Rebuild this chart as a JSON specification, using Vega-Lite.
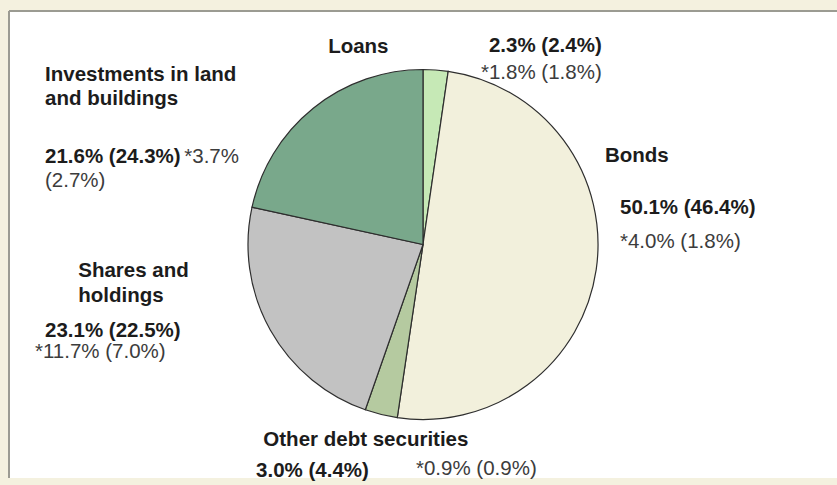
{
  "$schema": "https://vega.github.io/schema/vega-lite/v6.json",
  "width": 828,
  "height": 467,
  "autosize": {"type": "none"},
  "padding": {"left": 9, "top": 11, "right": 0, "bottom": 7},
  "background": "#f4f1df",
  "view": {"fill": "#ffffff", "stroke": "#9b9b92", "strokeWidth": 2, "strokeDash": [828, 1295, 467, 0]},
  "config": {
    "view": {"fill": "#ffffff", "stroke": "#9b9b92", "strokeWidth": 2, "strokeDash": [828, 1295, 467, 0]},
    "text": {"font": "Liberation Sans", "fontSize": 20.5, "lineBreak": "\n"}
  },
  "data": {
    "values": [
      {"cat": "Loans", "label": "Loans", "ord": 1, "share": 2.3, "prev": 2.4, "chg": 1.8, "chgPrev": 1.8},
      {"cat": "Bonds", "label": "Bonds", "ord": 2, "share": 50.1, "prev": 46.4, "chg": 4.0, "chgPrev": 1.8},
      {"cat": "Other debt securities", "label": "Other debt securities", "ord": 3, "share": 3.0, "prev": 4.4, "chg": 0.9, "chgPrev": 0.9},
      {"cat": "Shares and holdings", "label": "Shares and\nholdings", "ord": 4, "share": 23.1, "prev": 22.5, "chg": 11.7, "chgPrev": 7.0},
      {"cat": "Investments in land and buildings", "label": "Investments in land\nand buildings", "ord": 5, "share": 21.6, "prev": 24.3, "chg": 3.7, "chgPrev": 2.7}
    ]
  },
  "transform": [
    {"stack": "share", "groupby": [], "sort": [{"field": "ord", "order": "ascending"}], "as": ["s0", "s1"]},
    {"calculate": "(datum.s0 + datum.s1) / 2", "as": "mid"},
    {"calculate": "format(datum.share, '.1f') + '% (' + format(datum.prev, '.1f') + '%)'", "as": "pctText"},
    {"calculate": "'*' + format(datum.chg, '.1f') + '% (' + format(datum.chgPrev, '.1f') + '%)'", "as": "chgText"},
    {"calculate": "'*' + format(datum.chg, '.1f') + '%'", "as": "chgOnly"},
    {"calculate": "'(' + format(datum.chgPrev, '.1f') + '%)'", "as": "chgPrevOnly"}
  ],
  "layer": [
    {
      "mark": {"type": "arc", "radius": 175, "stroke": "#2e2e2e", "strokeWidth": 1.2},
      "encoding": {
        "theta": {"field": "s0", "type": "quantitative", "stack": null, "scale": {"domain": [0, 100.1], "nice": false, "zero": true}},
        "theta2": {"field": "s1"},
        "color": {
          "field": "cat", "type": "nominal", "legend": null,
          "scale": {
            "domain": ["Loans", "Bonds", "Other debt securities", "Shares and holdings", "Investments in land and buildings"],
            "range": ["#c6e9b6", "#f2f0dc", "#b5caa0", "#c2c2c2", "#79a88b"]
          }
        }
      }
    },
    {
      "transform": [{"filter": "datum.cat === 'Loans'"}],
      "mark": {"type": "text", "radius": 200, "align": "center", "baseline": "alphabetic", "dx": -79.1, "dy": 7.7, "fontWeight": "bold", "color": "#1c1c1c"},
      "encoding": {"theta": {"field": "mid", "type": "quantitative", "stack": null}, "text": {"field": "label"}}
    },
    {
      "transform": [{"filter": "datum.cat === 'Loans'"}],
      "mark": {"type": "text", "radius": 200, "align": "right", "baseline": "alphabetic", "dx": 164.3, "dy": 6.7, "fontWeight": "bold", "color": "#1c1c1c"},
      "encoding": {"theta": {"field": "mid", "type": "quantitative", "stack": null}, "text": {"field": "pctText"}}
    },
    {
      "transform": [{"filter": "datum.cat === 'Loans'"}],
      "mark": {"type": "text", "radius": 200, "align": "right", "baseline": "alphabetic", "dx": 164.3, "dy": 34.3, "fontWeight": "normal", "color": "#3c3c3c"},
      "encoding": {"theta": {"field": "mid", "type": "quantitative", "stack": null}, "text": {"field": "chgText"}}
    },
    {
      "transform": [{"filter": "datum.cat === 'Bonds'"}],
      "mark": {"type": "text", "radius": 200, "align": "left", "baseline": "alphabetic", "dx": -15.9, "dy": -111.3, "fontWeight": "bold", "color": "#1c1c1c"},
      "encoding": {"theta": {"field": "mid", "type": "quantitative", "stack": null}, "text": {"field": "label"}}
    },
    {
      "transform": [{"filter": "datum.cat === 'Bonds'"}],
      "mark": {"type": "text", "radius": 200, "align": "left", "baseline": "alphabetic", "dx": -0.9, "dy": -59.3, "fontWeight": "bold", "color": "#1c1c1c"},
      "encoding": {"theta": {"field": "mid", "type": "quantitative", "stack": null}, "text": {"field": "pctText"}}
    },
    {
      "transform": [{"filter": "datum.cat === 'Bonds'"}],
      "mark": {"type": "text", "radius": 200, "align": "left", "baseline": "alphabetic", "dx": -0.9, "dy": -25.3, "fontWeight": "normal", "color": "#3c3c3c"},
      "encoding": {"theta": {"field": "mid", "type": "quantitative", "stack": null}, "text": {"field": "chgText"}}
    },
    {
      "transform": [{"filter": "datum.cat === 'Other debt securities'"}],
      "mark": {"type": "text", "radius": 200, "align": "left", "baseline": "alphabetic", "dx": -111.8, "dy": 7.3, "fontWeight": "bold", "color": "#1c1c1c"},
      "encoding": {"theta": {"field": "mid", "type": "quantitative", "stack": null}, "text": {"field": "label"}}
    },
    {
      "transform": [{"filter": "datum.cat === 'Other debt securities'"}],
      "mark": {"type": "text", "radius": 200, "align": "left", "baseline": "alphabetic", "dx": -119.1, "dy": 38.0, "fontWeight": "bold", "color": "#1c1c1c"},
      "encoding": {"theta": {"field": "mid", "type": "quantitative", "stack": null}, "text": {"field": "pctText"}}
    },
    {
      "transform": [{"filter": "datum.cat === 'Other debt securities'"}],
      "mark": {"type": "text", "radius": 200, "align": "right", "baseline": "alphabetic", "dx": 161.6, "dy": 36.3, "fontWeight": "normal", "color": "#3c3c3c"},
      "encoding": {"theta": {"field": "mid", "type": "quantitative", "stack": null}, "text": {"field": "chgText"}}
    },
    {
      "transform": [{"filter": "datum.cat === 'Shares and holdings'"}],
      "mark": {"type": "text", "radius": 200, "align": "left", "baseline": "alphabetic", "dx": -170.2, "dy": -64.8, "lineHeight": 25, "fontWeight": "bold", "color": "#1c1c1c"},
      "encoding": {"theta": {"field": "mid", "type": "quantitative", "stack": null}, "text": {"field": "label"}}
    },
    {
      "transform": [{"filter": "datum.cat === 'Shares and holdings'"}],
      "mark": {"type": "text", "radius": 200, "align": "left", "baseline": "alphabetic", "dx": -203.45, "dy": -5.4, "fontWeight": "bold", "color": "#1c1c1c"},
      "encoding": {"theta": {"field": "mid", "type": "quantitative", "stack": null}, "text": {"field": "pctText"}}
    },
    {
      "transform": [{"filter": "datum.cat === 'Shares and holdings'"}],
      "mark": {"type": "text", "radius": 200, "align": "left", "baseline": "alphabetic", "dx": -213.45, "dy": 16.2, "fontWeight": "normal", "color": "#3c3c3c"},
      "encoding": {"theta": {"field": "mid", "type": "quantitative", "stack": null}, "text": {"field": "chgText"}}
    },
    {
      "transform": [{"filter": "datum.cat === 'Investments in land and buildings'"}],
      "mark": {"type": "text", "radius": 200, "align": "left", "baseline": "alphabetic", "dx": -252.56, "dy": -8.0, "lineHeight": 24, "fontWeight": "bold", "color": "#1c1c1c"},
      "encoding": {"theta": {"field": "mid", "type": "quantitative", "stack": null}, "text": {"field": "label"}}
    },
    {
      "transform": [{"filter": "datum.cat === 'Investments in land and buildings'"}],
      "mark": {"type": "text", "radius": 200, "align": "left", "baseline": "alphabetic", "dx": -252.56, "dy": 74.6, "fontWeight": "bold", "color": "#1c1c1c"},
      "encoding": {"theta": {"field": "mid", "type": "quantitative", "stack": null}, "text": {"field": "pctText"}}
    },
    {
      "transform": [{"filter": "datum.cat === 'Investments in land and buildings'"}],
      "mark": {"type": "text", "radius": 200, "align": "left", "baseline": "alphabetic", "dx": -113.3, "dy": 74.6, "fontWeight": "normal", "color": "#3c3c3c"},
      "encoding": {"theta": {"field": "mid", "type": "quantitative", "stack": null}, "text": {"field": "chgOnly"}}
    },
    {
      "transform": [{"filter": "datum.cat === 'Investments in land and buildings'"}],
      "mark": {"type": "text", "radius": 200, "align": "left", "baseline": "alphabetic", "dx": -252.56, "dy": 98.6, "fontWeight": "normal", "color": "#3c3c3c"},
      "encoding": {"theta": {"field": "mid", "type": "quantitative", "stack": null}, "text": {"field": "chgPrevOnly"}}
    }
  ]
}
